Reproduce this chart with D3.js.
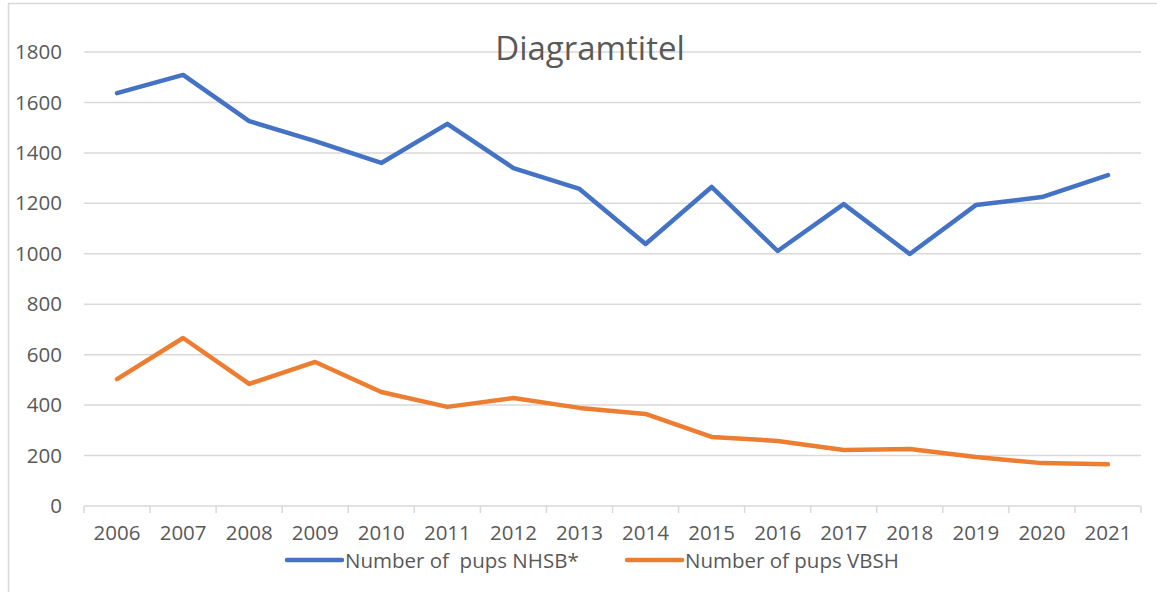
<!DOCTYPE html>
<html lang="en">
<head>
  <meta charset="UTF-8" />
  <title>Diagramtitel</title>
  <script src="https://d3js.org/d3.v7.min.js"></script>
  <style>
    body { margin: 0; background: #fff; }
    svg text { font-family: "Open Sans", "Liberation Sans", sans-serif; fill: #595959; }
  </style>
</head>
<body>
  <svg id="chart" width="1157" height="592"></svg>

  <script>
    const years = ["2006", "2007", "2008", "2009", "2010", "2011", "2012", "2013",
                   "2014", "2015", "2016", "2017", "2018", "2019", "2020", "2021"];
    const pupsNHSB = [1637, 1709, 1526, 1447, 1360, 1515, 1340, 1257, 1039, 1265, 1011, 1197, 999, 1193, 1225, 1312];
    const pupsVBSH = [503, 666, 484, 571, 452, 393, 428, 389, 365, 274, 258, 222, 226, 194, 170, 166];
    const yTicks = [0, 200, 400, 600, 800, 1000, 1200, 1400, 1600, 1800];
    const seriesNames = ["Number of  pups NHSB*", "Number of pups VBSH"];
    const colors = ["#4472c4", "#ed7d31"];

    const svg = d3.select("#chart");
    const plotLeft = 84, plotRight = 1141, plotTop = 52, plotBottom = 506;

    // Rahmen
    svg.append("rect")
      .attr("x", 8.5).attr("y", 3.5)
      .attr("width", 1160).attr("height", 600)
      .attr("fill", "none").attr("stroke", "#d9d9d9").attr("stroke-width", 1.5);

    const x = d3.scaleBand().domain(years).range([plotLeft, plotRight]);
    const y = d3.scaleLinear().domain([0, 1800]).range([plotBottom, plotTop]);

    // Gitterlinien
    svg.append("g")
      .selectAll("line")
      .data(yTicks.slice(1))
      .join("line")
      .attr("x1", plotLeft).attr("x2", plotRight)
      .attr("y1", d => y(d)).attr("y2", d => y(d))
      .attr("stroke", "#d9d9d9").attr("stroke-width", 1.5);

    // y-Achse Beschriftung
    const yAxis = svg.append("g")
      .attr("transform", `translate(${plotLeft},0)`)
      .call(d3.axisLeft(y).tickValues(yTicks).tickFormat(d3.format("d")).tickSize(0).tickPadding(22));
    yAxis.select(".domain").remove();
    yAxis.selectAll("text").style("font-size", "20.5px");

    // x-Achse
    const xAxis = svg.append("g")
      .attr("transform", `translate(0,${plotBottom})`)
      .call(d3.axisBottom(x).tickSize(0).tickPadding(19));
    xAxis.select(".domain").remove();
    xAxis.selectAll("text").style("font-size", "20.5px");

    svg.append("line")
      .attr("x1", plotLeft).attr("x2", plotRight)
      .attr("y1", plotBottom).attr("y2", plotBottom)
      .attr("stroke", "#d9d9d9").attr("stroke-width", 1.5);

    const boundaries = years.map(d => x(d)).concat([plotRight]);
    svg.append("g")
      .selectAll("line")
      .data(boundaries)
      .join("line")
      .attr("x1", d => d).attr("x2", d => d)
      .attr("y1", plotBottom).attr("y2", plotBottom + 7)
      .attr("stroke", "#d9d9d9").attr("stroke-width", 1.5);

    // Linien
    const line = d3.line()
      .x((d, i) => x(years[i]) + x.bandwidth() / 2)
      .y(d => y(d));

    [pupsNHSB, pupsVBSH].forEach((vals, i) => {
      svg.append("path")
        .datum(vals)
        .attr("d", line)
        .attr("fill", "none")
        .attr("stroke", colors[i])
        .attr("stroke-width", 4.5)
        .attr("stroke-linejoin", "round")
        .attr("stroke-linecap", "round");
    });

    // Titel
    svg.append("text")
      .attr("x", 590).attr("y", 60)
      .attr("text-anchor", "middle")
      .style("font-size", "33px")
      .text("Diagramtitel");

    // Legende
    const legendX = [287, 627];
    seriesNames.forEach((name, i) => {
      svg.append("line")
        .attr("x1", legendX[i]).attr("x2", legendX[i] + 55)
        .attr("y1", 560).attr("y2", 560)
        .attr("stroke", colors[i]).attr("stroke-width", 4.5)
        .attr("stroke-linecap", "round");
      svg.append("text")
        .attr("x", legendX[i] + 58).attr("y", 568)
        .style("font-size", "20.5px")
        .style("white-space", "pre")
        .text(name);
    });
  </script>
</body>
</html>
